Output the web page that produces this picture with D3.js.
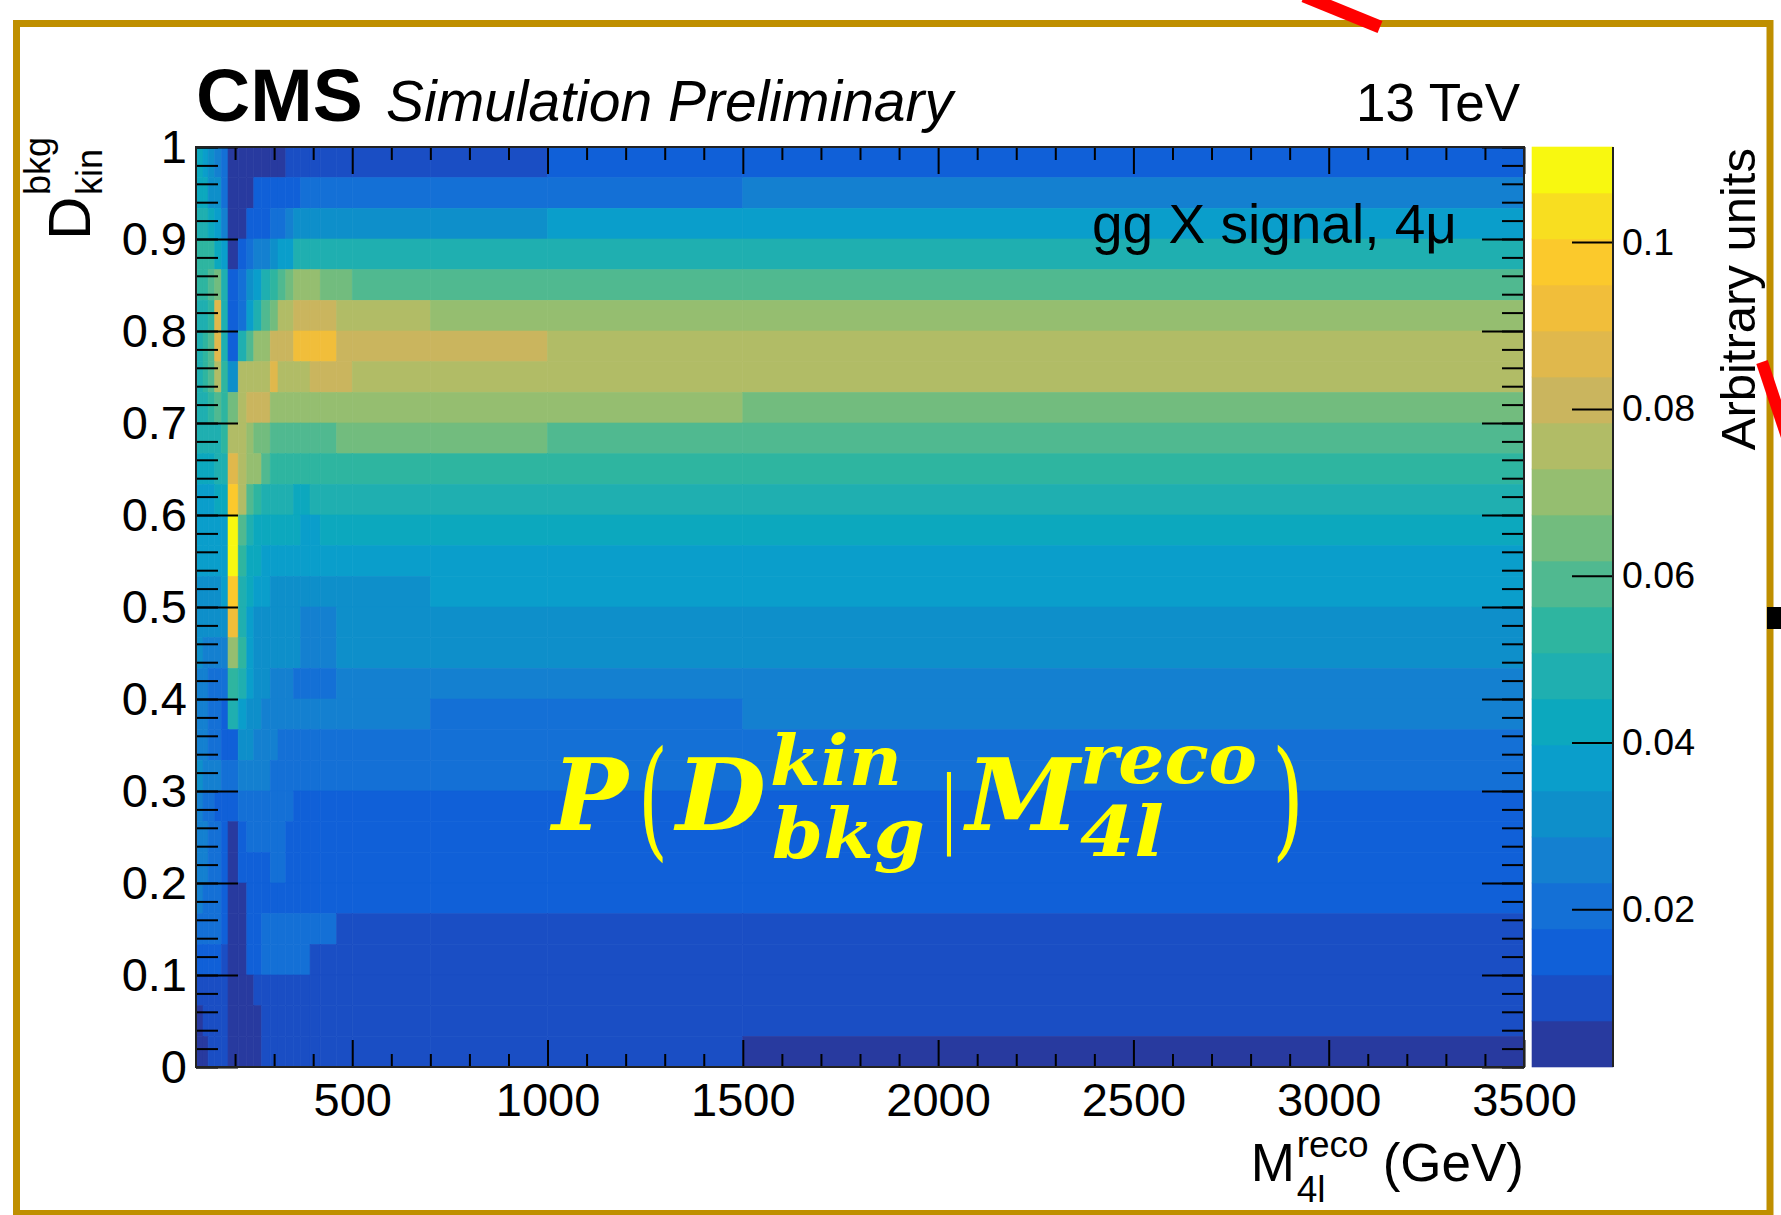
<!DOCTYPE html>
<html>
<head>
<meta charset="utf-8">
<script src="https://cdn.jsdelivr.net/npm/d3@7"></script>
<style>
  body { margin: 0; background: #fff; }
  svg { display: block; }
  text { font-family: "Liberation Sans", Arial, Helvetica, sans-serif; }
</style>
</head>
<body>
<div id="chart"></div>
<script>
// M4l bin edges (GeV)
var massEdges = [100, 118, 131, 148, 165, 182, 208, 230, 248, 268, 290, 310, 330, 350, 368, 392, 418, 460, 500, 700, 1000, 1500, 3500];

// Dkin bins: 30 equal bins between 0 and 1
var dEdges = d3.range(0, 31).map(function (i) { return i / 30; });

// P(Dkin | M4l) per bin, one row per Dkin bin from D = 1 (top) down to D = 0
var probRows = [
  [.042,.037,.031,.026,.020,.004,.004,.004,.004,.004,.004,.004,.009,.009,.009,.009,.009,.009,.009,.009,.015,.015],
  [.042,.042,.031,.031,.020,.004,.004,.004,.015,.015,.015,.015,.015,.015,.020,.020,.020,.020,.020,.020,.020,.026],
  [.048,.048,.042,.037,.026,.004,.004,.015,.015,.015,.020,.020,.026,.031,.031,.031,.031,.031,.031,.031,.037,.037],
  [.053,.053,.053,.042,.037,.004,.015,.020,.026,.026,.031,.037,.037,.048,.048,.048,.048,.048,.048,.048,.048,.048],
  [.053,.053,.059,.064,.048,.015,.020,.031,.037,.048,.053,.059,.064,.070,.070,.070,.064,.064,.059,.059,.059,.059],
  [.048,.048,.053,.086,.048,.015,.020,.037,.048,.059,.064,.075,.075,.081,.081,.081,.081,.075,.075,.070,.070,.070],
  [.048,.053,.059,.086,.048,.015,.048,.059,.070,.070,.081,.081,.081,.092,.092,.092,.092,.081,.081,.081,.075,.075],
  [.048,.053,.059,.075,.053,.031,.075,.075,.075,.075,.086,.075,.075,.075,.075,.081,.081,.081,.075,.075,.075,.075],
  [.048,.048,.053,.059,.053,.064,.075,.081,.081,.081,.070,.070,.070,.070,.070,.070,.070,.070,.070,.070,.070,.064],
  [.048,.048,.048,.048,.053,.075,.075,.070,.064,.064,.059,.059,.059,.059,.059,.059,.059,.064,.064,.064,.059,.059],
  [.042,.042,.042,.048,.048,.086,.075,.070,.070,.059,.053,.053,.053,.053,.053,.053,.053,.053,.053,.053,.053,.053],
  [.037,.037,.037,.042,.042,.097,.075,.059,.053,.048,.048,.048,.048,.042,.042,.048,.048,.048,.048,.048,.048,.048],
  [.037,.037,.037,.037,.037,.108,.059,.048,.042,.042,.042,.042,.042,.042,.037,.037,.042,.042,.042,.042,.042,.042],
  [.037,.037,.037,.037,.037,.108,.053,.042,.042,.037,.037,.037,.037,.037,.037,.037,.037,.037,.037,.037,.037,.037],
  [.031,.031,.031,.031,.037,.097,.048,.042,.037,.037,.031,.031,.031,.031,.031,.031,.031,.031,.031,.037,.037,.037],
  [.031,.031,.031,.031,.031,.092,.048,.037,.031,.031,.031,.031,.031,.031,.026,.026,.026,.031,.031,.031,.031,.031],
  [.031,.026,.026,.026,.026,.070,.053,.037,.031,.031,.031,.031,.031,.031,.026,.026,.026,.031,.031,.031,.031,.031],
  [.026,.026,.020,.020,.020,.053,.048,.037,.031,.031,.026,.026,.026,.020,.020,.020,.020,.026,.026,.026,.026,.026],
  [.026,.026,.020,.020,.015,.048,.037,.031,.031,.026,.026,.026,.026,.026,.026,.026,.026,.026,.026,.020,.020,.026],
  [.026,.026,.020,.020,.015,.015,.031,.031,.026,.026,.026,.020,.020,.020,.020,.020,.020,.020,.020,.020,.020,.020],
  [.031,.026,.026,.026,.020,.020,.026,.026,.026,.026,.020,.020,.020,.020,.020,.020,.020,.020,.020,.020,.020,.020],
  [.026,.020,.020,.015,.015,.015,.020,.020,.020,.020,.020,.020,.020,.015,.015,.015,.015,.015,.015,.015,.015,.015],
  [.026,.026,.020,.020,.015,.004,.015,.020,.020,.020,.020,.020,.015,.015,.015,.015,.015,.015,.015,.015,.015,.015],
  [.026,.026,.020,.020,.015,.004,.015,.015,.015,.015,.020,.020,.015,.015,.015,.015,.015,.015,.015,.015,.015,.015],
  [.026,.020,.020,.020,.015,.004,.004,.015,.015,.015,.015,.015,.015,.015,.015,.015,.015,.015,.015,.015,.015,.015],
  [.020,.020,.020,.020,.015,.004,.004,.015,.015,.020,.020,.020,.020,.020,.020,.020,.020,.009,.009,.009,.009,.009],
  [.015,.015,.015,.015,.009,.004,.004,.015,.015,.020,.020,.020,.020,.020,.020,.009,.009,.009,.009,.009,.009,.009],
  [.009,.009,.009,.009,.009,.004,.004,.004,.009,.009,.009,.009,.009,.009,.009,.009,.009,.009,.009,.009,.009,.009],
  [.004,.009,.009,.009,.009,.004,.004,.004,.004,.009,.009,.009,.009,.009,.009,.009,.009,.009,.009,.009,.009,.009],
  [.004,.004,.009,.009,.009,.004,.004,.004,.004,.009,.009,.009,.009,.009,.009,.009,.009,.009,.009,.009,.009,.004]
];

var xTicks = [500, 1000, 1500, 2000, 2500, 3000, 3500];
var yTicks = [0, 0.1, 0.2, 0.3, 0.4, 0.5, 0.6, 0.7, 0.8, 0.9, 1];
var zTicks = [0.02, 0.04, 0.06, 0.08, 0.1];
var zRange = [0.0011, 0.1114];

// 20 contour colours of the palette, lowest first
var palette = ["#283a9f", "#1a4ec4", "#1060d8", "#1470d6", "#1480d0", "#0e8fca", "#0a9ecb", "#0ca8be", "#1fafb0", "#2eb5a0",
               "#50b990", "#72bc7e", "#95be70", "#b1bc66", "#cab55e", "#e0b84c", "#f1be3a", "#fbc92c", "#f8de20", "#f8f810"];

var W = 1781, H = 1215;
var plot = { left: 196, top: 147, right: 1524, bottom: 1067 };
var bar = { left: 1532, right: 1613 };

var svg = d3.select("#chart").append("svg").attr("width", W).attr("height", H);
svg.append("rect").attr("width", W).attr("height", H).attr("fill", "#fff");

var x = d3.scaleLinear().domain([100, 3500]).range([plot.left, plot.right]);
var y = d3.scaleLinear().domain([0, 1]).range([plot.bottom, plot.top]);
var z = d3.scaleLinear().domain(zRange).range([plot.bottom, plot.top]);
var color = d3.scaleQuantize().domain(zRange).range(palette);

// flatten the rows into cells
var cells = [];
probRows.forEach(function (row, i) {
  var d1 = dEdges[dEdges.length - 1 - i], d0 = dEdges[dEdges.length - 2 - i];
  row.forEach(function (v, j) {
    cells.push({ m0: massEdges[j], m1: massEdges[j + 1], d0: d0, d1: d1, v: v });
  });
});

svg.append("g").attr("class", "cells")
  .selectAll("rect").data(cells).join("rect")
  .attr("x", function (d) { return x(d.m0); })
  .attr("y", function (d) { return y(d.d1); })
  .attr("width", function (d) { return x(d.m1) - x(d.m0); })
  .attr("height", function (d) { return y(d.d0) - y(d.d1); })
  .attr("fill", function (d) { return color(d.v); })
  .attr("stroke", function (d) { return color(d.v); })
  .attr("stroke-width", 0.6);

// ****************** axes ***************************
var xMinor = d3.range(200, 3500, 100).filter(function (v) { return v % 500 !== 0; });
var yMinor = d3.range(0, 51).map(function (i) { return i / 50; });

function styleAxis(g, size) {
  g.select(".domain").remove();
  g.selectAll("line").attr("stroke", "#000").attr("stroke-width", 2);
  g.selectAll("text").attr("fill", "#000").attr("font-size", size)
    .attr("font-family", "'Liberation Sans', Arial, Helvetica, sans-serif");
}

function yFmt(d) { return (d === 0 || d === 1) ? String(d) : d.toFixed(1); }

var axes = svg.append("g");
axes.append("g").attr("transform", "translate(0," + plot.bottom + ")")
  .call(d3.axisBottom(x).tickValues(xTicks).tickSizeInner(-27).tickSizeOuter(0).tickPadding(16).tickFormat(d3.format("d")))
  .call(styleAxis, 47);
axes.append("g").attr("transform", "translate(0," + plot.bottom + ")")
  .call(d3.axisBottom(x).tickValues(xMinor).tickSizeInner(-13).tickSizeOuter(0).tickFormat(""))
  .call(styleAxis, 47);
axes.append("g").attr("transform", "translate(0," + plot.top + ")")
  .call(d3.axisTop(x).tickValues(xTicks).tickSizeInner(-27).tickSizeOuter(0).tickFormat(""))
  .call(styleAxis, 47);
axes.append("g").attr("transform", "translate(0," + plot.top + ")")
  .call(d3.axisTop(x).tickValues(xMinor).tickSizeInner(-13).tickSizeOuter(0).tickFormat(""))
  .call(styleAxis, 47);

axes.append("g").attr("transform", "translate(" + plot.left + ",0)")
  .call(d3.axisLeft(y).tickValues(yTicks).tickSizeInner(-42).tickSizeOuter(0).tickPadding(9).tickFormat(yFmt))
  .call(styleAxis, 47);
axes.append("g").attr("transform", "translate(" + plot.left + ",0)")
  .call(d3.axisLeft(y).tickValues(yMinor).tickSizeInner(-22).tickSizeOuter(0).tickFormat(""))
  .call(styleAxis, 47);
axes.append("g").attr("transform", "translate(" + plot.right + ",0)")
  .call(d3.axisRight(y).tickValues(yTicks).tickSizeInner(-42).tickSizeOuter(0).tickFormat(""))
  .call(styleAxis, 47);
axes.append("g").attr("transform", "translate(" + plot.right + ",0)")
  .call(d3.axisRight(y).tickValues(yMinor).tickSizeInner(-22).tickSizeOuter(0).tickFormat(""))
  .call(styleAxis, 47);

svg.append("rect")
  .attr("x", plot.left).attr("y", plot.top)
  .attr("width", plot.right - plot.left).attr("height", plot.bottom - plot.top)
  .attr("fill", "none").attr("stroke", "#222").attr("stroke-width", 2);

// ****************** palette bar ***************************
svg.append("g").selectAll("rect").data(palette).join("rect")
  .attr("x", bar.left)
  .attr("width", bar.right - bar.left)
  .attr("y", function (c) { return z(color.invertExtent(c)[1]); })
  .attr("height", function (c) { var e = color.invertExtent(c); return z(e[0]) - z(e[1]); })
  .attr("fill", function (c) { return c; })
  .attr("stroke", function (c) { return c; })
  .attr("stroke-width", 0.6);

svg.append("g").attr("transform", "translate(" + bar.right + ",0)")
  .call(d3.axisRight(z).tickValues(zTicks).tickSizeInner(-41).tickSizeOuter(0).tickPadding(9)
    .tickFormat(function (d) { return String(+d.toFixed(2)); }))
  .call(styleAxis, 37.5);
svg.append("line")
  .attr("x1", bar.right).attr("x2", bar.right).attr("y1", plot.top).attr("y2", plot.bottom)
  .attr("stroke", "#222").attr("stroke-width", 2);

// ****************** labels ***************************
var labels = svg.append("g");

labels.append("text").attr("x", 196).attr("y", 121)
  .attr("font-size", 75).attr("font-weight", "bold").text("CMS");
labels.append("text").attr("x", 386).attr("y", 121)
  .attr("font-size", 57).attr("font-style", "italic").text("Simulation Preliminary");
labels.append("text").attr("x", 1520).attr("y", 121).attr("text-anchor", "end")
  .attr("font-size", 53).text("13 TeV");
labels.append("text").attr("x", 1457).attr("y", 243).attr("text-anchor", "end")
  .attr("font-size", 55).text("gg X signal, 4\u03bc");

// x title: M^{reco}_{4l} (GeV), right aligned to the frame
var gev = labels.append("text").attr("x", plot.right).attr("y", 1181).attr("text-anchor", "end")
  .attr("font-size", 53).text("(GeV)");
var gevStart = plot.right - gev.node().getComputedTextLength();
var xt = labels.append("text").attr("font-size", 53);
xt.append("tspan").attr("x", gevStart - 86 - 46).attr("y", 1181).text("M");
xt.append("tspan").attr("x", gevStart - 86).attr("y", 1157).attr("font-size", 37).text("reco");
xt.append("tspan").attr("x", gevStart - 86).attr("y", 1202).attr("font-size", 37).text("4l");

// y title: D^{bkg}_{kin}, rotated
var yt = labels.append("text").attr("transform", "translate(90,240) rotate(-90)").attr("font-size", 60);
yt.append("tspan").attr("x", 0).attr("y", 0).text("D");
yt.append("tspan").attr("x", 45).attr("y", -40).attr("font-size", 36).text("bkg");
yt.append("tspan").attr("x", 45).attr("y", 12).attr("font-size", 36).text("kin");

// z title
labels.append("text").attr("transform", "translate(1755,148) rotate(-90)")
  .attr("text-anchor", "end").attr("font-size", 49).text("Arbitrary units");

// yellow formula P(D^kin_bkg | M^reco_4l)
var parts = [
  { t: "P", x: 552, y: 830, s: 100, w: 76, it: true, b: true },
  { t: "(", x: 638, y: 843, s: 130, w: 30, it: false, b: false },
  { t: "D", x: 676, y: 830, s: 100, w: 90, it: true, b: true },
  { t: "kin", x: 770, y: 785, s: 70, w: 132, it: true, b: true },
  { t: "bkg", x: 772, y: 858, s: 70, w: 153, it: true, b: true },
  { t: "|", x: 942, y: 836, s: 84, w: 14, it: false, b: true },
  { t: "M", x: 966, y: 830, s: 100, w: 114, it: true, b: true },
  { t: "reco", x: 1080, y: 783, s: 70, w: 177, it: true, b: true },
  { t: "4l", x: 1080, y: 856, s: 70, w: 84, it: true, b: true },
  { t: ")", x: 1272, y: 843, s: 130, w: 32, it: false, b: false }
];
svg.append("text")
  .attr("fill", "#ffff00")
  .style("font-family", "'DejaVu Serif', 'Liberation Serif', serif")
  .selectAll("tspan").data(parts).join("tspan")
  .attr("x", function (d) { return d.x; })
  .attr("y", function (d) { return d.y; })
  .attr("font-size", function (d) { return d.s; })
  .attr("font-style", function (d) { return d.it ? "italic" : "normal"; })
  .attr("font-weight", function (d) { return d.b ? "bold" : "normal"; })
  .attr("textLength", function (d) { return d.w; })
  .attr("lengthAdjust", "spacingAndGlyphs")
  .text(function (d) { return d.t; });

// ****************** slide frame ***************************
svg.append("rect").attr("x", 16.5).attr("y", 23.5).attr("width", 1753.5).attr("height", 1190)
  .attr("fill", "none").attr("stroke", "#bf8f00").attr("stroke-width", 7);
svg.append("line").attr("x1", 1304).attr("y1", -4).attr("x2", 1380).attr("y2", 27)
  .attr("stroke", "#ff0000").attr("stroke-width", 13);
svg.append("line").attr("x1", 1762).attr("y1", 362).attr("x2", 1792).attr("y2", 452)
  .attr("stroke", "#ff0000").attr("stroke-width", 12);
svg.append("rect").attr("x", 1767).attr("y", 607).attr("width", 14).attr("height", 22).attr("fill", "#000");
</script>
</body>
</html>
